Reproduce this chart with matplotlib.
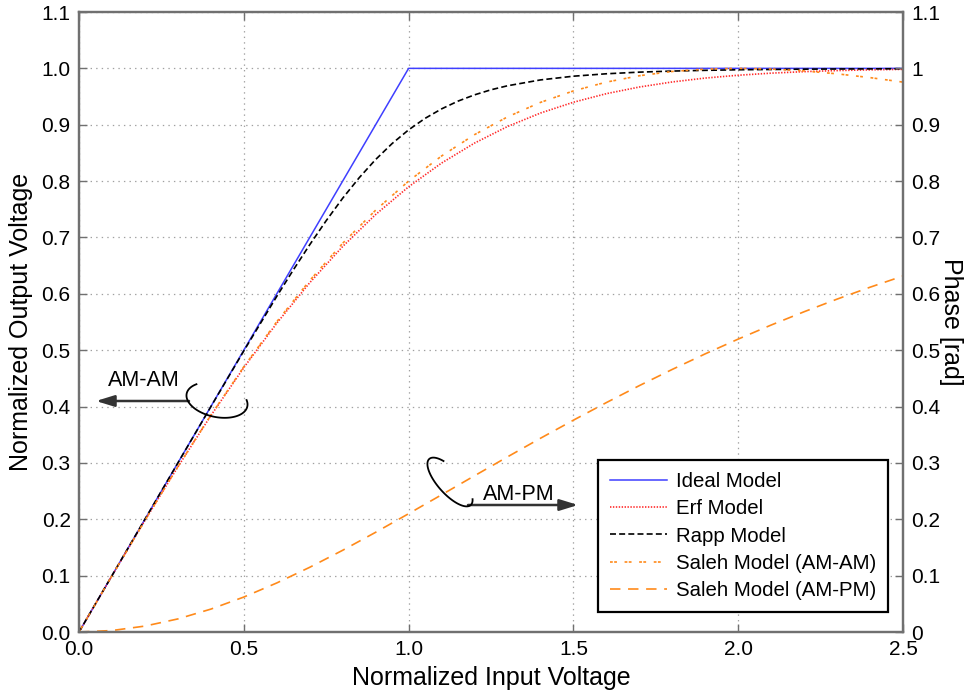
import matplotlib
matplotlib.use('Agg')
import matplotlib.pyplot as plt
import numpy as np
from matplotlib.lines import Line2D

plt.rcParams['font.family'] = ['Liberation Sans', 'DejaVu Sans']
plt.rcParams['lines.scale_dashes'] = False

# ---- data ----
x_in = [0.0, 0.1, 0.2, 0.3, 0.4, 0.5, 0.6, 0.7, 0.8, 0.9, 1.0, 1.1, 1.2, 1.3,
        1.4, 1.5, 1.6, 1.7, 1.8, 1.9, 2.0, 2.1, 2.2, 2.3, 2.4, 2.5]
ideal = [0.0, 0.1, 0.2, 0.3, 0.4, 0.5, 0.6, 0.7, 0.8, 0.9, 1.0, 1.0, 1.0, 1.0,
         1.0, 1.0, 1.0, 1.0, 1.0, 1.0, 1.0, 1.0, 1.0, 1.0, 1.0, 1.0]
erf_model = [0.0, 0.0997, 0.1979, 0.2931, 0.3839, 0.4691, 0.5479, 0.6197, 0.6840,
             0.7407, 0.7899, 0.8320, 0.8674, 0.8968, 0.9207, 0.9399, 0.9551, 0.9669,
             0.9759, 0.9828, 0.9878, 0.9915, 0.9942, 0.9961, 0.9974, 0.9983]
x_rapp = [0.0, 0.1, 0.2, 0.3, 0.4, 0.5, 0.6, 0.65, 0.7, 0.75, 0.8, 0.85, 0.9, 0.95,
          1.0, 1.05, 1.1, 1.15, 1.2, 1.25, 1.3, 1.4, 1.5, 1.6, 1.7, 1.8, 1.9, 2.0,
          2.1, 2.2, 2.3, 2.4, 2.5]
rapp_model = [0.0, 0.1, 0.2, 0.2999, 0.3997, 0.4987, 0.5955, 0.6422, 0.6871, 0.7298,
              0.7696, 0.8059, 0.8383, 0.8666, 0.8909, 0.9113, 0.9281, 0.9419, 0.9530,
              0.9620, 0.9691, 0.9795, 0.9861, 0.9904, 0.9933, 0.9952, 0.9965, 0.9975,
              0.9980, 0.9986, 0.9989, 0.9991, 0.9994]
saleh_amam = [0.0, 0.0998, 0.1980, 0.2934, 0.3846, 0.4706, 0.5505, 0.6236, 0.6897,
              0.7484, 0.8000, 0.8445, 0.8824, 0.9139, 0.9396, 0.9600, 0.9756, 0.9869,
              0.9945, 0.9987, 1.0000, 0.9988, 0.9955, 0.9903, 0.9836, 0.9756]
saleh_ampm = [0.0, 0.0026, 0.0105, 0.0232, 0.0406, 0.0620, 0.0870, 0.1148, 0.1450,
              0.1769, 0.2099, 0.2434, 0.2772, 0.3107, 0.3437, 0.3758, 0.4070, 0.4371,
              0.4659, 0.4935, 0.5197, 0.5446, 0.5682, 0.5906, 0.6117, 0.6316]
series_labels = ['Ideal Model', 'Erf Model', 'Rapp Model',
                 'Saleh Model (AM-AM)', 'Saleh Model (AM-PM)']
x_ticks = [0.0, 0.5, 1.0, 1.5, 2.0, 2.5]
y_ticks = [0.0, 0.1, 0.2, 0.3, 0.4, 0.5, 0.6, 0.7, 0.8, 0.9, 1.0, 1.1]

W, H = 974, 692
fig = plt.figure(figsize=(W / 100, H / 100), dpi=100)
ax = fig.add_axes([79 / W, 60 / H, 824 / W, 620 / H])

l1, = ax.plot(x_in, ideal, color='#3f3fff', lw=1.1, label=series_labels[0])
l2, = ax.plot(x_in, erf_model, color='#ff2a2a', lw=1.2, dashes=(1.0, 1.1), label=series_labels[1])
l3, = ax.plot(x_rapp, rapp_model, color='black', lw=1.2, dashes=(4.3, 2.3), label=series_labels[2])
l4, = ax.plot(x_in, saleh_amam, color='#ff8a1a', lw=1.2, dashes=(2.0, 1.0, 2.0, 5.5), label=series_labels[3])
l5, = ax.plot(x_in, saleh_ampm, color='#ff8a1a', lw=1.2, dashes=(7.5, 5.5), label=series_labels[4])

ax.set_xlim(0, 2.5)
ax.set_ylim(0, 1.1)
ax.set_xticks(x_ticks)
ax.set_xticklabels([f'{v:.1f}' for v in x_ticks])
ax.set_yticks(y_ticks)
ax.set_yticklabels([f'{v:.1f}' for v in y_ticks])
ax.grid(True, linestyle=(0, (1, 3)), color='#a0a0a0', lw=0.9)

ax2 = ax.twinx()
ax2.set_ylim(0, 1.1)
ax2.set_yticks(y_ticks)
ax2.set_yticklabels([f'{v:g}' for v in y_ticks])

for a in (ax, ax2):
    for s in a.spines.values():
        s.set_color('#707070')
        s.set_linewidth(1.6)
ax.tick_params(direction='in', length=6, width=1, color='#707070', labelsize=15, pad=6, top=True)
ax2.tick_params(direction='in', length=6, width=1, color='#707070', labelsize=15, pad=6)

ax.set_xlabel('Normalized Input Voltage', fontsize=18, labelpad=5)
ax.set_ylabel('Normalized Output Voltage', fontsize=18, labelpad=6)
ax2.set_ylabel('Phase [rad]', fontsize=18, rotation=270, labelpad=16)

leg = ax2.legend(handles=[l1, l2, l3, l4, l5], loc='lower left',
                 bbox_to_anchor=(0.630, 0.032), borderaxespad=0, fontsize=14.7,
                 handlelength=2.75, handletextpad=0.45, labelspacing=0.4,
                 borderpad=0.6, fancybox=False, framealpha=1, edgecolor='black')
leg.get_frame().set_linewidth(1.6)


def loop(cx, cy, a, b, ang, t0, t1):
    t = np.radians(np.linspace(t0, t1, 120))
    lx, ly = a * np.cos(t), b * np.sin(t)
    r = np.radians(ang)
    wx = lx * np.cos(r) - ly * np.sin(r)
    wy = lx * np.sin(r) + ly * np.cos(r)
    px, py = cx + wx, cy - wy
    fig.add_artist(Line2D(px / W, 1 - py / H, transform=fig.transFigure,
                          color='black', lw=1.3))


def arrow(x0, x1, y):
    ax2.annotate('', xy=(x1 / W, 1 - y / H), xytext=(x0 / W, 1 - y / H),
                 xycoords='figure fraction', textcoords='figure fraction',
                 arrowprops=dict(arrowstyle='-|>,head_length=0.55,head_width=0.17',
                                 color='#333333', lw=1.8, mutation_scale=20,
                                 shrinkA=0, shrinkB=0))


loop(217, 400, 31, 17, -12, 139, 381)
arrow(189, 96, 401)
fig.text(144 / W, 1 - 381 / H, 'AM-AM', ha='center', va='center', fontsize=15.5)

loop(450, 482, 31, 12, -48, 130, 386)
arrow(468, 578, 505)
fig.text(519 / W, 1 - 494 / H, 'AM-PM', ha='center', va='center', fontsize=15.5)

fig.savefig('out.png', dpi=100)
